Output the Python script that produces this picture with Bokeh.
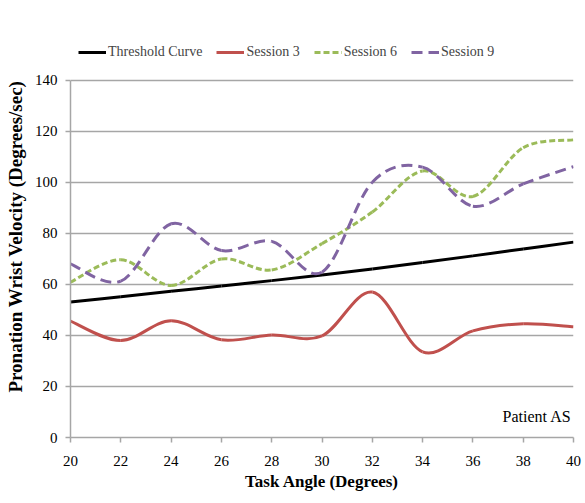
from bokeh.plotting import figure
from bokeh.models import (Range1d, Legend, LegendItem, Label, ColumnDataSource, FixedTicker,
                          BoxAnnotation)
from bokeh.embed import file_html
from bokeh.resources import INLINE

angles = [20, 22, 24, 26, 28, 30, 32, 34, 36, 38, 40]
threshold = [53.1, 55.2, 57.3, 59.4, 61.5, 63.7, 66.1, 68.6, 71.2, 73.9, 76.6]
session3 = [45.6, 38.0, 45.8, 38.3, 40.2, 39.8, 57.0, 33.6, 41.8, 44.6, 43.4]
session6 = [60.9, 69.7, 59.6, 70.0, 65.7, 76.0, 88.4, 104.5, 94.5, 113.6, 116.7]
session9 = [68.1, 61.3, 83.8, 73.3, 76.9, 64.8, 100.1, 106.0, 90.7, 99.4, 106.2]
x_ticks = [20, 22, 24, 26, 28, 30, 32, 34, 36, 38, 40]
y_ticks = [0, 20, 40, 60, 80, 100, 120, 140]

FONT = "Liberation Serif"


def smooth(xs, ys):
    n = len(xs)
    d = dict(x0=[], y0=[], x1=[], y1=[], cx0=[], cy0=[], cx1=[], cy1=[])
    for i in range(n - 1):
        i0 = max(i - 1, 0)
        i3 = min(i + 2, n - 1)
        x0, y0 = xs[i], ys[i]
        x1, y1 = xs[i + 1], ys[i + 1]
        d["x0"].append(x0); d["y0"].append(y0)
        d["x1"].append(x1); d["y1"].append(y1)
        d["cx0"].append(x0 + (x1 - xs[i0]) / 6.0)
        d["cy0"].append(y0 + (y1 - ys[i0]) / 6.0)
        d["cx1"].append(x1 - (xs[i3] - x0) / 6.0)
        d["cy1"].append(y1 - (ys[i3] - y0) / 6.0)
    return ColumnDataSource(d)


# frame: 402 px tall, 140 units over 357 px -> top of range leaves room for legend
p = figure(width=585, height=503, output_backend="svg", toolbar_location=None,
           x_range=Range1d(20, 40), y_range=Range1d(0, 157.6),
           min_border_left=70, min_border_right=12, min_border_top=35, min_border_bottom=66)
p.outline_line_color = None
p.background_fill_color = "white"
p.border_fill_color = "white"

# outer chart-area border (left and top edges visible in the reference)
p.add_layout(BoxAnnotation(left=7, right=700, top=5, bottom=700,
                           left_units="canvas", right_units="canvas",
                           top_units="canvas", bottom_units="canvas",
                           fill_alpha=0, line_color="#A6A6A6", line_width=1.5,
                           level="underlay"))

p.xgrid.visible = False
p.ygrid.grid_line_color = "#A6A6A6"
p.ygrid.grid_line_width = 1.5
p.ygrid.ticker = FixedTicker(ticks=y_ticks)

p.xaxis.ticker = FixedTicker(ticks=x_ticks)
p.yaxis.ticker = FixedTicker(ticks=y_ticks)
p.yaxis.bounds = (0, 140)
for ax in (p.xaxis, p.yaxis):
    ax.axis_line_color = "#A6A6A6"
    ax.axis_line_width = 1.5
    ax.major_tick_line_color = "#A6A6A6"
    ax.major_tick_line_width = 1.5
    ax.major_tick_out = 5
    ax.major_tick_in = 0
    ax.minor_tick_line_color = None
    ax.major_label_text_font = FONT
    ax.major_label_text_font_size = "15px"
    ax.major_label_text_color = "black"
    ax.axis_label_text_font = FONT
    ax.axis_label_text_font_style = "bold"
    ax.axis_label_text_color = "black"

p.xaxis.axis_label = "Task Angle (Degrees)"
p.xaxis.axis_label_text_font_size = "17px"
p.xaxis.major_label_standoff = 13
p.xaxis.axis_label_standoff = 3
p.yaxis.axis_label = "Pronation Wrist Velocity (Degrees/sec)"
p.yaxis.axis_label_text_font_size = "19px"
p.yaxis.major_label_standoff = 8
p.yaxis.axis_label_standoff = 6

r0 = p.bezier(x0="x0", y0="y0", x1="x1", y1="y1", cx0="cx0", cy0="cy0", cx1="cx1", cy1="cy1",
              source=smooth(angles, threshold), line_color="black", line_width=3)
r1 = p.bezier(x0="x0", y0="y0", x1="x1", y1="y1", cx0="cx0", cy0="cy0", cx1="cx1", cy1="cy1",
              source=smooth(angles, session3), line_color="#C0504D", line_width=3)
r2 = p.bezier(x0="x0", y0="y0", x1="x1", y1="y1", cx0="cx0", cy0="cy0", cx1="cx1", cy1="cy1",
              source=smooth(angles, session6), line_color="#9BBB59", line_width=3, line_dash="6 3")
r3 = p.bezier(x0="x0", y0="y0", x1="x1", y1="y1", cx0="cx0", cy0="cy0", cx1="cx1", cy1="cy1",
              source=smooth(angles, session9), line_color="#8064A2", line_width=3, line_dash="11 6")

legend = Legend(items=[LegendItem(label="Threshold Curve", renderers=[r0]),
                       LegendItem(label="Session 3", renderers=[r1]),
                       LegendItem(label="Session 6", renderers=[r2]),
                       LegendItem(label="Session 9", renderers=[r3])],
                orientation="horizontal", location=(8, 377),
                border_line_color=None, background_fill_alpha=0,
                label_text_font=FONT, label_text_font_size="14px",
                glyph_width=28, glyph_height=14, label_standoff=2, spacing=14,
                padding=2, margin=0)
p.add_layout(legend, "center")

p.add_layout(Label(x=40, y=5, x_offset=-2, text="Patient AS", text_align="right",
                   text_baseline="bottom", text_font=FONT, text_font_size="16px",
                   text_color="black"))

open("out.html", "w").write(file_html(p, INLINE))
